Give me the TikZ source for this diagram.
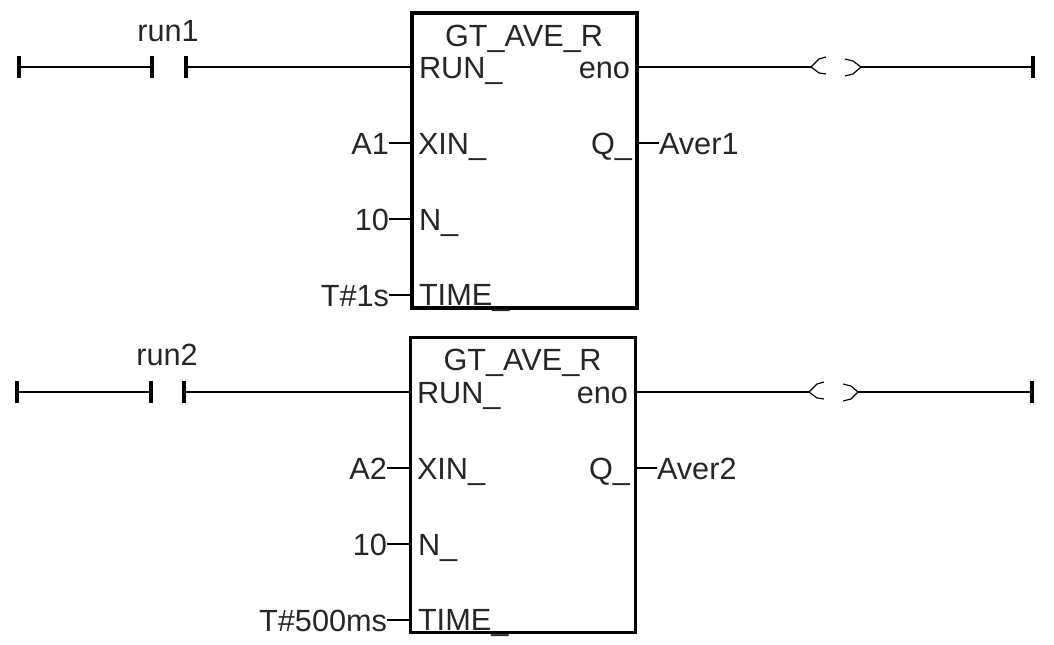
\documentclass[tikz,border=0pt]{standalone}
\usepackage{fontspec}
\setmainfont{Liberation Sans}
\usepackage{tikz}
\usetikzlibrary{positioning}

\begin{document}
\begin{tikzpicture}[
    x=0.75pt, y=-0.75pt,
    fblock/.style={
        draw, line width=2.6pt, minimum width=169pt, minimum height=221.5pt,
        inner sep=0pt, outer sep=0pt
    },
    wire/.style={line width=1.1pt},
    coil/.style={line width=0.9pt, line join=round},
    bar/.style={fill=black, inner sep=0pt, outer sep=0pt, minimum width=2.6pt, minimum height=16pt},
    lbl/.style={inner sep=0pt, outer sep=0pt, text=black!85, font=\fontsize{23}{23}\selectfont, text height=17pt, text depth=0pt},
    pinl/.style={lbl, anchor=west},
    pinr/.style={lbl, anchor=east}
]
\useasboundingbox (0,0) rectangle (1054,645);

% First rung: contact, block and coil
\node[bar] (starta) at (19,67) {};
\node[bar] (conla)  at (152,67) {};
\node[bar] (conra)  at (186,67) {};
\node[bar] (enda)   at (1033,67) {};
\node[lbl] (runa)   at (168,30) {run1};
\node[fblock] (boxa) at (524.5,160.5) {};
\node[lbl] (namea)  at (524,35) {GT\_AVE\_R};
\node[pinl] (rpina) at (419,67) {RUN\_};
\node[pinl] (xpina) at (418,143) {XIN\_};
\node[pinl] (npina) at (419,219) {N\_};
\node[pinl] (tpina) at (419,294) {TIME\_};
\node[pinr] (epina) at (630,67) {eno};
\node[pinr] (qpina) at (632,143) {Q\_};
\node[pinr] (xa)    at (389,143) {A1};
\node[pinr] (na)    at (389,219) {10};
\node[pinr] (ta)    at (389,295) {T\#1s};
\node[pinl] (avera) at (659,143) {Aver1};
\coordinate (coilla) at (811,67);
\coordinate (coilra) at (861,67);

\draw[wire] (starta) -- (conla);
\draw[wire] (conra) -- (boxa.west |- conra);
\draw[wire] (boxa.east |- coilla) -- (coilla);
\draw[wire] (coilra) -- (enda);
\draw[wire] (xa) -- (boxa.west |- xa);
\draw[wire] (na) -- (boxa.west |- na);
\draw[wire] (ta) -- (boxa.west |- ta);
\draw[wire] (boxa.east |- avera) -- (avera);

% coil brackets
\draw[coil] (826,57) -- (819,59) -- (coilla) -- (819,73) -- (826,74);
\draw[coil] (845,59) -- (853,61) -- (coilra) -- (853,74) -- (845,76);

% Second rung
\node[bar] (startb) at (17,392) {};
\node[bar] (conlb)  at (151,392) {};
\node[bar] (conrb)  at (184,392) {};
\node[bar] (endb)   at (1032,392) {};
\node[lbl] (runb)   at (167,354) {run2};
\node[fblock] (boxb) at (523,485) {};
\node[lbl] (nameb)  at (522.5,359.5) {GT\_AVE\_R};
\node[pinl] (rpinb) at (417,392) {RUN\_};
\node[pinl] (xpinb) at (417,468) {XIN\_};
\node[pinl] (npinb) at (418,544) {N\_};
\node[pinl] (tpinb) at (418,619) {TIME\_};
\node[pinr] (epinb) at (628,392) {eno};
\node[pinr] (qpinb) at (630,468) {Q\_};
\node[pinr] (xb)    at (387,468) {A2};
\node[pinr] (nb)    at (387,544) {10};
\node[pinr] (tb)    at (387,620) {T\#500ms};
\node[pinl] (averb) at (657,468) {Aver2};
\coordinate (coillb) at (809,392);
\coordinate (coilrb) at (858,392);

\draw[wire] (startb) -- (conlb);
\draw[wire] (conrb) -- (boxb.west |- conrb);
\draw[wire] (boxb.east |- coillb) -- (coillb);
\draw[wire] (coilrb) -- (endb);
\draw[wire] (xb) -- (boxb.west |- xb);
\draw[wire] (nb) -- (boxb.west |- nb);
\draw[wire] (tb) -- (boxb.west |- tb);
\draw[wire] (boxb.east |- averb) -- (averb);

% coil brackets
\draw[coil] (824,382) -- (817,384) -- (coillb) -- (817,398) -- (824,399);
\draw[coil] (843,384) -- (851,386) -- (coilrb) -- (851,399) -- (843,401);

\end{tikzpicture}
\end{document}
